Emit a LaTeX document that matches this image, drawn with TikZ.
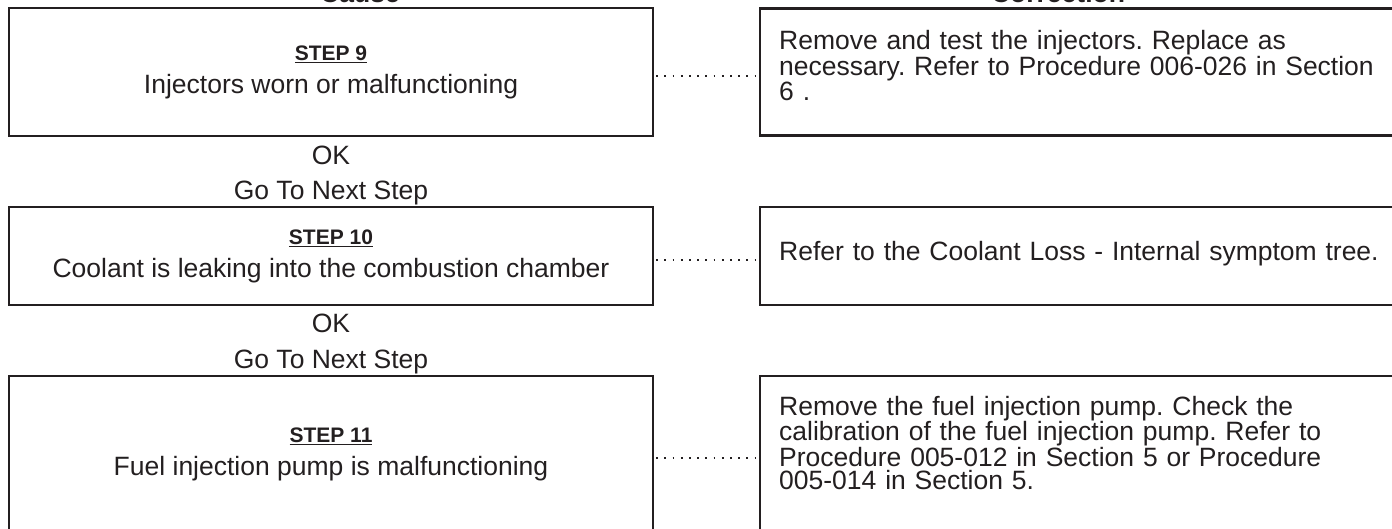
\documentclass[tikz,border=0pt]{standalone}
\usepackage{fontspec}
\setmainfont{Liberation Sans}
\frenchspacing
\definecolor{ink}{RGB}{35,31,32}
\newcommand\ulstep[1]{\leavevmode\vtop{\hbox{\bfseries\fontsize{21}{25}\selectfont #1}\kern1.8pt\hrule height 1.3pt}}
\begin{document}
\begin{tikzpicture}[x=1pt,y=-1pt,
  cbox/.style={draw=ink, line width=2.5pt, inner sep=0pt, minimum width=644pt,
               align=center, text=ink, font=\fontsize{26.5}{33}\selectfont},
  rbox/.style={draw=ink, line width=2.5pt, inner sep=0pt, minimum width=680pt},
  rtext/.style={anchor=base west, inner sep=0pt, text width=620pt, align=left,
                text=ink, font=\fontsize{26.5}{23.5}\selectfont},
  mid/.style={anchor=base, inner sep=0pt, text=ink, font=\fontsize{26.5}{30}\selectfont},
  head/.style={mid, font=\fontsize{26.5}{30}\selectfont\bfseries},
  dotline/.style={draw=ink, line width=1.7pt, dash pattern=on 1.7pt off 6.5pt,
                  shorten <=2pt, shorten >=1pt}
]
\useasboundingbox (0,0) rectangle (1392,529);
\clip (0,0) rectangle (1392,529);

% column headers (cut off at the top edge)
\node[head] (hcause) at (360,3) {Cause};
\node[head] (hcorr) at (1058,3) {Correction};

% step 9
\node[cbox, minimum height=128pt] (c9) at (331,72)
  {\ulstep{STEP 9}\\Injectors worn or malfunctioning};
\node[rbox, minimum height=127pt] (r9) at (1100,72) {};
\node[rtext] (t9) at (779,50)
  {Remove and test the injectors. Replace as\\necessary. Refer to Procedure 006-026 in Section\\6 .};
\draw[dotline] ([yshift=-4pt]c9.east) -- ([yshift=-4pt]r9.west);

\node[mid] (ok9) at (331,165) {OK};
\node[mid] (gn9) at (331,200) {Go To Next Step};

% step 10
\node[cbox, minimum height=98pt] (c10) at (331,256)
  {\ulstep{STEP 10}\\Coolant is leaking into the combustion chamber};
\node[rbox, minimum height=98pt] (r10) at (1100,256) {};
\node[rtext] (t10) at (779,261)
  {Refer to the Coolant Loss - Internal symptom tree.};
\draw[dotline] ([yshift=-4pt]c10.east) -- ([yshift=-4pt]r10.west);

\node[mid] (ok10) at (331,333) {OK};
\node[mid] (gn10) at (331,368) {Go To Next Step};

% step 11
\node[cbox, minimum height=156pt] (c11) at (331,454)
  {\ulstep{STEP 11}\\Fuel injection pump is malfunctioning};
\node[rbox, minimum height=156pt] (r11) at (1100,454) {};
\node[rtext] (t11) at (779,415)
  {Remove the fuel injection pump. Check the\\calibration of the fuel injection pump. Refer to\\Procedure 005-012 in Section 5 or Procedure\\005-014 in Section 5.};
\draw[dotline] ([yshift=-4pt]c11.east) -- ([yshift=-4pt]r11.west);
\end{tikzpicture}
\end{document}
